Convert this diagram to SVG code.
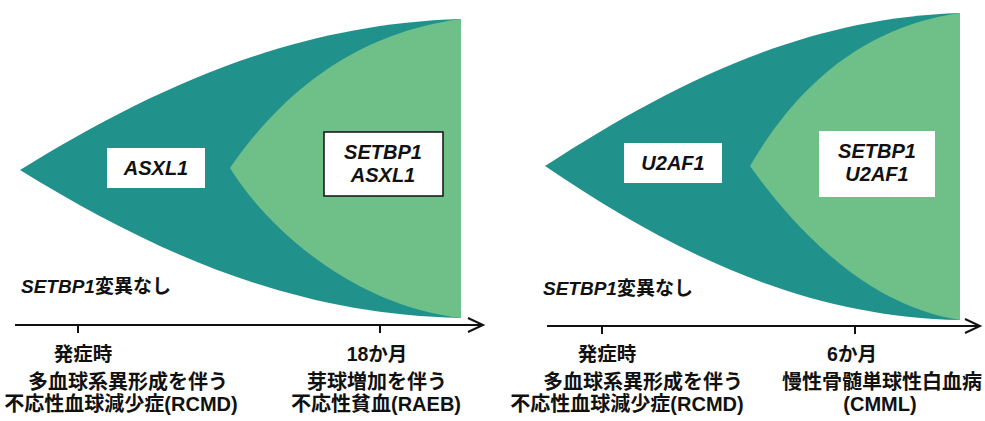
<svg xmlns="http://www.w3.org/2000/svg" width="985" height="421" viewBox="0 0 985 421">
<defs>
<style>
.teal{fill:#21918c}
.green{fill:#6ebf88}
.box{fill:#ffffff}
.boxb{fill:#ffffff;stroke:#111;stroke-width:1.5}
text{font-family:"Liberation Sans","Noto Sans CJK JP",sans-serif;font-weight:bold;fill:#111}
.gene{font-style:italic;font-size:20px;text-anchor:middle}
.lab{font-size:19.5px;text-anchor:middle}
.lab2{font-size:20px;text-anchor:middle}
.axis{stroke:#111;stroke-width:2;fill:none}
</style>
</defs>
<rect width="985" height="421" fill="#ffffff"/>
<!-- Left panel -->
<g id="left-clone1">
<path class="teal" d="M20,170 C150,90 290,24 461,19 L461,318 C290,315 150,250 20,170 Z"/>
</g>
<g id="left-clone2">
<path class="green" d="M230,168 C270,110 340,35 461,19 L461,318 C350,305 265,225 230,168 Z"/>
</g>
<g id="box-asxl1">
<rect class="box" x="107" y="148" width="98" height="40"/>
<text class="gene" x="156" y="175">ASXL1</text>
</g>
<g id="box-setbp1-asxl1">
<rect class="boxb" x="324" y="132" width="119" height="64"/>
<text class="gene" x="383" y="159">SETBP1</text>
<text class="gene" x="383" y="182">ASXL1</text>
</g>
<g id="left-note">
<text x="21" y="293" style="font-size:19px"><tspan font-style="italic">SETBP1</tspan>変異なし</text>
</g>
<g id="left-t0">
<text class="lab" x="83" y="361">発症時</text>
<text class="lab2" x="128" y="389">多血球系異形成を伴う</text>
<text class="lab2" x="121" y="411">不応性血球減少症(RCMD)</text>
</g>
<g id="left-t1">
<text class="lab" x="377" y="361">18か月</text>
<text class="lab2" x="377" y="389">芽球増加を伴う</text>
<text class="lab2" x="376" y="411">不応性貧血(RAEB)</text>
</g>
<!-- Right panel -->
<g id="right-clone1">
<path class="teal" d="M545,166 C669,86 800,18 960,13 L960,320 C800,317 669,250 545,166 Z"/>
</g>
<g id="right-clone2">
<path class="green" d="M750,166 C785,106 847,29 960,13 L960,320 C862,305 790,222 750,166 Z"/>
</g>
<g id="box-u2af1">
<rect class="box" x="624" y="143" width="98" height="40"/>
<text class="gene" x="673" y="170">U2AF1</text>
</g>
<g id="box-setbp1-u2af1">
<rect class="box" x="819" y="131" width="116" height="66"/>
<text class="gene" x="877" y="158">SETBP1</text>
<text class="gene" x="877" y="181">U2AF1</text>
</g>
<g id="right-note">
<text x="543" y="295" style="font-size:19px"><tspan font-style="italic">SETBP1</tspan>変異なし</text>
</g>
<g id="right-t0">
<text class="lab" x="607" y="361">発症時</text>
<text class="lab2" x="643" y="389">多血球系異形成を伴う</text>
<text class="lab2" x="627" y="411">不応性血球減少症(RCMD)</text>
</g>
<g id="right-t1">
<text class="lab" x="852" y="361">6か月</text>
<text class="lab2" x="882" y="389">慢性骨髄単球性白血病</text>
<text class="lab2" x="880" y="411">(CMML)</text>
</g>
<!-- Connectors (time axes) -->
<g id="connectors">
<path class="axis" d="M15,325 H482"/>
<path class="axis" d="M468,318 L483,325 L468,332" stroke-width="2.5"/>
<path class="axis" d="M78,325 V333"/>
<path class="axis" d="M380,325 V333"/>
<path class="axis" d="M547,326 H979"/>
<path class="axis" d="M965,319 L980,326 L965,333" stroke-width="2.5"/>
<path class="axis" d="M602,326 V334"/>
<path class="axis" d="M855,326 V334"/>
</g>
</svg>
